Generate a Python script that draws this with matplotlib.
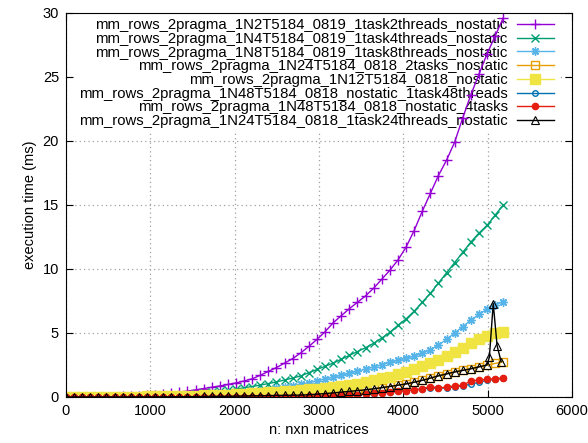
"""
Execution time of the 2-pragma row-wise matrix multiply for the different
node/task/thread configurations, n from 0 to 5184.
"""

import matplotlib
matplotlib.use("Agg")
import matplotlib.pyplot as plt

plt.rcParams["font.family"] = ["Liberation Sans", "DejaVu Sans"]
plt.rcParams["font.size"] = 10.5

# matrix sizes (n for an n x n matrix)
n = list(range(0, 5185, 96))

t_2threads = [0, 0, 0, 0.01, 0.01, 0.02, 0.03, 0.05, 0.07, 0.09,
              0.12, 0.15, 0.22, 0.29, 0.37, 0.46, 0.56, 0.66, 0.76, 0.86,
              0.98, 1.1, 1.25, 1.42, 1.7, 2.0, 2.3, 2.65, 3.0, 3.45,
              3.95, 4.5, 5.1, 5.8, 6.35, 6.9, 7.4, 7.9, 8.5, 9.2,
              9.9, 10.7, 11.7, 13.0, 14.5, 15.9, 17.3, 18.5, 19.9, 21.8,
              23.6, 25.2, 26.8, 28.2, 29.6]

t_4threads = [0, 0, 0, 0, 0, 0.01, 0.01, 0.01, 0.02, 0.03,
              0.04, 0.06, 0.08, 0.11, 0.14, 0.18, 0.24, 0.3, 0.37, 0.45,
              0.53, 0.62, 0.72, 0.82, 0.93, 1.05, 1.18, 1.33, 1.48, 1.65,
              1.9, 2.15, 2.4, 2.65, 2.95, 3.25, 3.55, 3.85, 4.2, 4.6,
              5.05, 5.6, 6.1, 6.7, 7.4, 8.1, 8.9, 9.7, 10.5, 11.3,
              12.1, 12.8, 13.4, 14.2, 15.0]

t_8threads = [0, 0, 0, 0, 0, 0, 0.01, 0.01, 0.02, 0.02,
              0.03, 0.04, 0.05, 0.07, 0.09, 0.11, 0.14, 0.17, 0.2, 0.24,
              0.28, 0.33, 0.38, 0.43, 0.5, 0.58, 0.67, 0.77, 0.88, 1.0,
              1.13, 1.26, 1.4, 1.55, 1.7, 1.85, 2.02, 2.18, 2.35, 2.52,
              2.7, 2.87, 3.02, 3.2, 3.4, 3.7, 4.05, 4.5, 5.0, 5.5,
              6.0, 6.45, 6.85, 7.2, 7.45]

t_2tasks = [0, 0, 0, 0, 0, 0, 0, 0, 0.01, 0.01,
            0.01, 0.01, 0.02, 0.02, 0.03, 0.03, 0.04, 0.04, 0.05, 0.06,
            0.07, 0.08, 0.09, 0.1, 0.11, 0.12, 0.13, 0.14, 0.15, 0.17,
            0.19, 0.23, 0.28, 0.33, 0.39, 0.45, 0.51, 0.57, 0.65, 0.74,
            0.83, 0.93, 1.03, 1.16, 1.31, 1.48, 1.66, 1.82, 1.97, 2.1,
            2.22, 2.37, 2.48, 2.62, 2.76]

t_12 = [0, 0, 0, 0, 0, 0.01, 0.01, 0.02, 0.02, 0.03,
        0.04, 0.05, 0.06, 0.07, 0.08, 0.09, 0.11, 0.13, 0.15, 0.17,
        0.19, 0.22, 0.25, 0.28, 0.32, 0.36, 0.4, 0.45, 0.5, 0.55,
        0.6, 0.66, 0.72, 0.8, 0.88, 0.96, 1.05, 1.17, 1.3, 1.45,
        1.6, 1.78, 1.95, 2.15, 2.4, 2.65, 2.9, 3.2, 3.5, 3.85,
        4.2, 4.5, 4.8, 5.0, 5.1]

t_48threads = [0, 0, 0, 0, 0, 0, 0, 0, 0, 0,
               0, 0, 0, 0, 0.01, 0.01, 0.01, 0.01, 0.01, 0.01,
               0.02, 0.02, 0.02, 0.02, 0.02, 0.02, 0.02, 0.02, 0.02, 0.02,
               0.03, 0.05, 0.07, 0.09, 0.12, 0.15, 0.18, 0.22, 0.27, 0.32,
               0.38, 0.44, 0.49, 0.55, 0.62, 0.72, 0.68, 0.7, 0.8, 0.88,
               1.0, 1.15, 1.3, 1.38, 1.45]

t_4tasks = [0, 0, 0, 0, 0, 0, 0, 0, 0, 0,
            0, 0, 0, 0, 0.01, 0.01, 0.01, 0.01, 0.01, 0.01,
            0.02, 0.02, 0.02, 0.02, 0.02, 0.02, 0.02, 0.02, 0.03, 0.03,
            0.04, 0.06, 0.08, 0.1, 0.13, 0.16, 0.19, 0.23, 0.28, 0.33,
            0.39, 0.45, 0.5, 0.56, 0.63, 0.82, 0.7, 0.78, 0.85, 0.92,
            1.25, 1.33, 1.38, 1.43, 1.48]

# the 24-thread run has its own sizes at the end (spike near n=5066)
n_24threads = n[:53] + [5020, 5066, 5112, 5160]
t_24threads = [0, 0, 0, 0, 0, 0, 0, 0, 0.01, 0.01,
               0.01, 0.01, 0.01, 0.02, 0.02, 0.03, 0.03, 0.04, 0.05, 0.05,
               0.06, 0.07, 0.08, 0.09, 0.1, 0.11, 0.12, 0.13, 0.14, 0.15,
               0.18, 0.22, 0.27, 0.32, 0.38, 0.44, 0.5, 0.56, 0.64, 0.73,
               0.82, 0.92, 1.02, 1.15, 1.3, 1.47, 1.65, 1.8, 1.95, 2.08,
               2.2, 2.35, 2.5, 3.1, 7.3, 4.0, 2.75]

labels = [
    "mm_rows_2pragma_1N2T5184_0819_1task2threads_nostatic",
    "mm_rows_2pragma_1N4T5184_0819_1task4threads_nostatic",
    "mm_rows_2pragma_1N8T5184_0819_1task8threads_nostatic",
    "mm_rows_2pragma_1N24T5184_0818_2tasks_nostatic",
    "mm_rows_2pragma_1N12T5184_0818_nostatic",
    "mm_rows_2pragma_1N48T5184_0818_nostatic_1task48threads",
    "mm_rows_2pragma_1N48T5184_0818_nostatic_4tasks",
    "mm_rows_2pragma_1N24T5184_0818_1task24threads_nostatic",
]

fig = plt.figure(figsize=(5.88, 4.43), dpi=100)
ax = fig.add_axes([66 / 588, 1 - 397 / 443, 506 / 588, 384 / 443])

ax.plot(n, t_2threads, color="#9400d3", lw=1, marker="+", ms=7, mew=1, label=labels[0])
ax.plot(n, t_4threads, color="#009e73", lw=1, marker="x", ms=5.5, mew=1, label=labels[1])
ax.plot(n, t_8threads, color="#56b4e9", lw=1, marker=(8, 2, 0), ms=6, mew=1, label=labels[2])
ax.plot(n, t_2tasks, color="#e69f00", lw=1, marker="s", ms=5.5, mew=1, mfc="none", label=labels[3])
ax.plot(n, t_12, color="#f0e442", lw=1, marker="s", ms=6.5, mew=1, label=labels[4])
ax.plot(n, t_48threads, color="#0072b2", lw=1, marker="o", ms=4, mew=1, mfc="none", label=labels[5])
ax.plot(n, t_4tasks, color="#e51e10", lw=1, marker="o", ms=4.5, mew=1, label=labels[6])
ax.plot(n_24threads, t_24threads, color="black", lw=1, marker="^", ms=5.5, mew=0.8, mfc="none", label=labels[7])

ax.set_xlim(0, 6000)
ax.set_ylim(0, 30)
ax.set_xticks(range(0, 6001, 1000))
ax.set_yticks(range(0, 31, 5))
ax.tick_params(direction="in", top=True, right=True, length=5, width=0.8, labelsize=10.5, pad=5)
ax.set_axisbelow(True)
ax.grid(True, color="#a0a0a0", linestyle=(0, (1, 2.5)), linewidth=0.9)
ax.set_xlabel("n: nxn matrices")
ax.set_ylabel("execution time (ms)")

leg = ax.legend(loc="upper right", bbox_to_anchor=(1 - 13 / 506, 1), borderaxespad=0,
                markerfirst=False, handlelength=2.5, handletextpad=0.6,
                labelspacing=-0.02, borderpad=0.35, fancybox=False,
                facecolor="white", edgecolor="none", framealpha=1, fontsize=10.7)
leg.set_zorder(1.5)

fig.savefig("out.png", dpi=100)
